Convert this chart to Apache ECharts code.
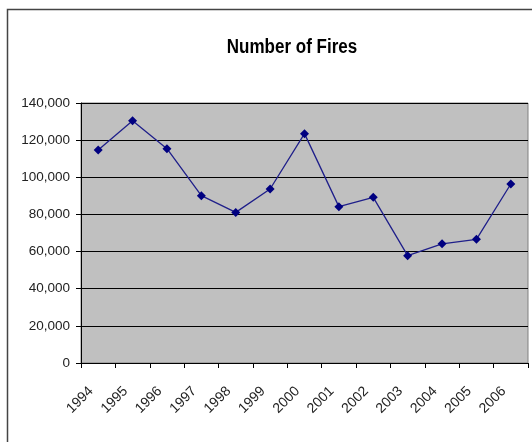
<!DOCTYPE html>
<html>
<head>
<meta charset="utf-8">
<script src="https://cdn.jsdelivr.net/npm/echarts@6/dist/echarts.min.js"></script>
<style>
html,body{margin:0;padding:0;background:#fff;}
#main{width:532px;height:442px;}
</style>
</head>
<body>
<div id="main"></div>
<script>
const years = ['1994','1995','1996','1997','1998','1999','2000','2001','2002','2003','2004','2005','2006'];
const fires = [114700, 130500, 115400, 90100, 81100, 93700, 123500, 84200, 89200, 57800, 64200, 66600, 96400];
const yTicks = [0, 20000, 40000, 60000, 80000, 100000, 120000, 140000];
const chartTitle = 'Number of Fires';

const chart = echarts.init(document.getElementById('main'), null, {renderer: 'canvas'});
const fontFam = '"Liberation Sans", Arial, sans-serif';
chart.setOption({
  animation: false,
  backgroundColor: '#fff',
  graphic: [
    {type: 'rect', shape: {x: 7.5, y: 9.5, width: 560, height: 500},
     style: {fill: null, stroke: '#444', lineWidth: 1.5}, z: 100, silent: true},
    {type: 'text', x: 292, y: 47, scaleX: 0.85, originX: 0, originY: 0, z: 100,
     style: {text: chartTitle, fill: '#000', font: 'bold 20px "Liberation Sans", Arial, sans-serif',
             align: 'center', verticalAlign: 'middle'}}
  ],
  grid: {left: 81, top: 103, right: 4, bottom: 79, show: true,
         backgroundColor: '#c0c0c0', borderColor: '#808080', borderWidth: 1},
  xAxis: {
    type: 'category', data: years, boundaryGap: true,
    axisLine: {lineStyle: {color: '#000', width: 1}},
    axisTick: {show: true, length: 5, lineStyle: {color: '#000'}},
    axisLabel: {rotate: 45, interval: 0, margin: 19, padding: [0, 10, 0, 0],
                fontFamily: fontFam, fontSize: 14, color: '#222'},
    splitLine: {show: false}
  },
  yAxis: {
    type: 'value', min: yTicks[0], max: yTicks[yTicks.length - 1], interval: yTicks[1] - yTicks[0],
    axisLine: {show: true, lineStyle: {color: '#000', width: 1}},
    axisTick: {show: true, length: 5, lineStyle: {color: '#000'}},
    axisLabel: {margin: 11, fontFamily: fontFam, fontSize: 13.5, color: '#222',
      formatter: v => v.toLocaleString('en-US')},
    splitLine: {show: true, lineStyle: {color: '#000', width: 1.2}}
  },
  series: [{
    type: 'line', data: fires,
    symbol: 'diamond', symbolSize: 9,
    lineStyle: {color: '#1f1f8a', width: 1.3},
    itemStyle: {color: '#000080', borderWidth: 0}
  }]
});
</script>
</body>
</html>
